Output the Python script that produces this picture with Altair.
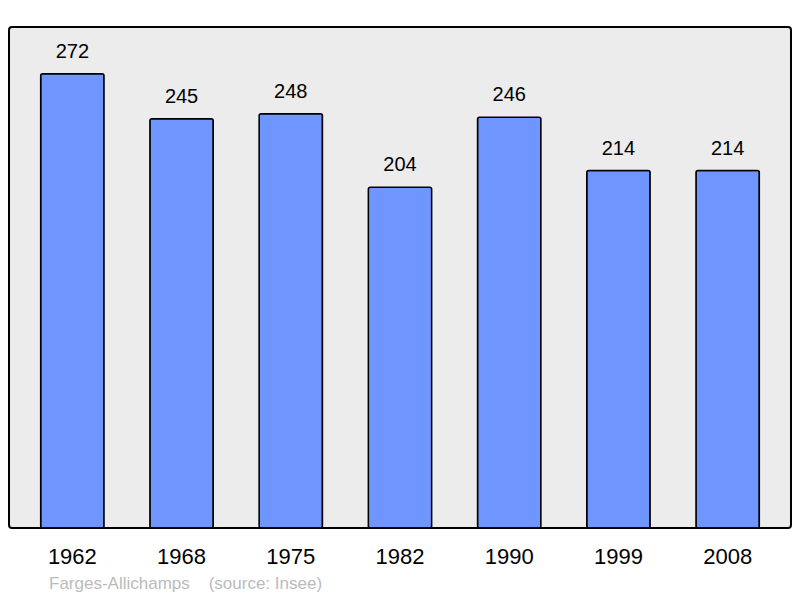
import altair as alt
import pandas as pd

years = ["1962", "1968", "1975", "1982", "1990", "1999", "2008"]
population = [272, 245, 248, 204, 246, 214, 214]

df = pd.DataFrame({"year": years, "pop": population})

FONT = "Liberation Sans"

base = alt.Chart(df).encode(
    x=alt.X(
        "year:N",
        sort=years,
        title=None,
        scale=alt.Scale(paddingInner=0.42, paddingOuter=0.29),
        axis=alt.Axis(
            labelAngle=0,
            labelFontSize=22,
            labelFont=FONT,
            labelColor="#000000",
            labelPadding=18,
            domain=False,
            ticks=False,
        ),
    ),
    y=alt.Y("pop:Q", scale=alt.Scale(domain=[0, 300]), axis=None),
)

bars = base.mark_bar(
    color="#6f96ff", stroke="#000000", strokeWidth=1.5, cornerRadius=2
)

labels = base.mark_text(
    baseline="bottom", dy=-12, fontSize=20, font=FONT, color="#000000"
).encode(text="pop:Q")

chart = (
    alt.layer(bars, labels)
    .properties(
        width=782,
        height=501,
        autosize=alt.AutoSizeParams(type="none"),
        padding={"left": 1, "top": 19, "right": 1, "bottom": 70},
        title=alt.TitleParams(
            "Farges-Allichamps" + "\u00a0" * 4 + "(source: Insee)",
            orient="bottom",
            anchor="start",
            dx=40,
            offset=9,
            fontSize=17,
            font=FONT,
            fontWeight="normal",
            color="#bbbbbb",
        ),
    )
    .configure_view(
        fill="#ececec", stroke="#000000", strokeWidth=2, cornerRadius=3
    )
)

chart.save("out.html", embed_options={"renderer": "svg", "actions": False})
